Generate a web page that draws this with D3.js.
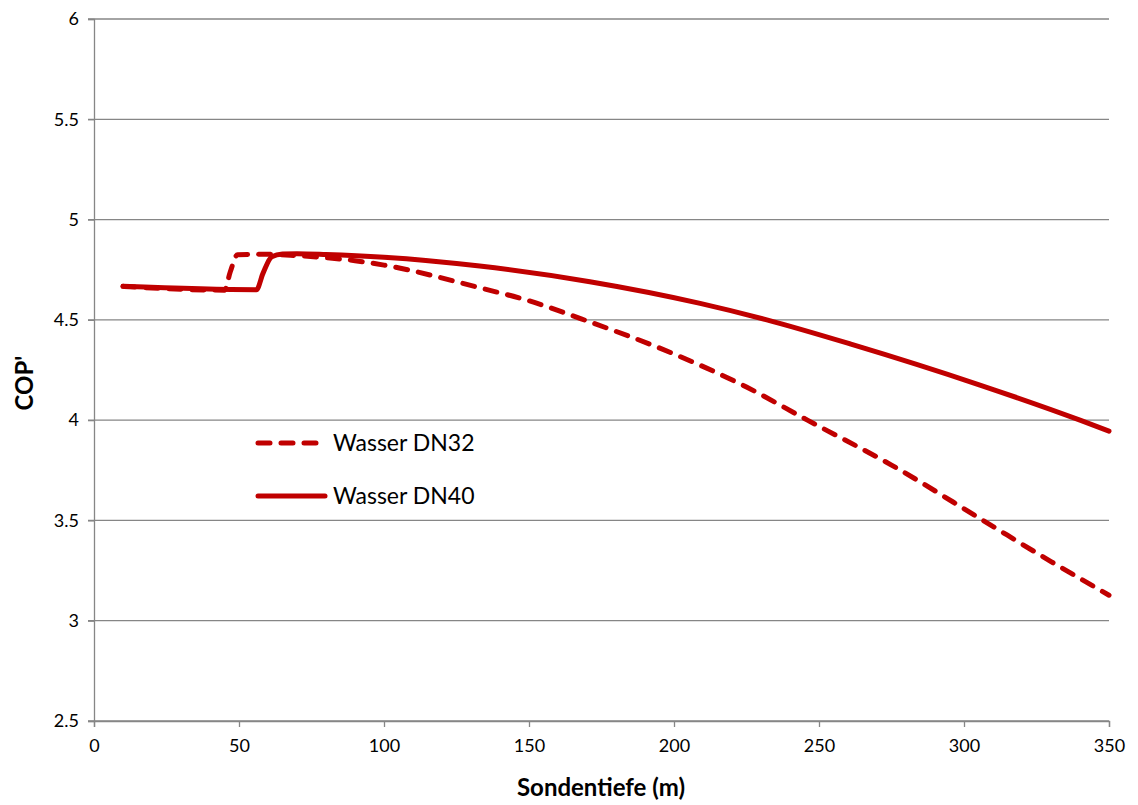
<!DOCTYPE html>
<html><head><meta charset="utf-8">
<script src="https://cdn.jsdelivr.net/npm/d3@7"></script>
<style>body{margin:0;background:#fff}svg{display:block}</style>
</head><body>
<script>
const xTicks = [0, 50, 100, 150, 200, 250, 300, 350];
const yTicks = [2.5, 3, 3.5, 4, 4.5, 5, 5.5, 6];
const seriesNames = ["Wasser DN32", "Wasser DN40"];
const dn32Depth = [10, 45, 47, 49.5, 60, 70, 80, 90, 100, 133, 150, 168, 200, 225, 246, 275, 306.6, 330, 350];
const dn32Cop   = [4.667, 4.648, 4.74, 4.825, 4.827, 4.82, 4.81, 4.795, 4.773, 4.66, 4.595, 4.505, 4.33, 4.165, 4.0, 3.776, 3.5, 3.295, 3.127];
const dn40Depth = [10, 56, 58.3, 61.3, 65, 70, 80, 100, 133, 171, 209, 232, 261, 305.5, 340, 350];
const dn40Cop   = [4.667, 4.650, 4.733, 4.815, 4.828, 4.83, 4.826, 4.812, 4.768, 4.69, 4.582, 4.5, 4.379, 4.175, 4.0, 3.945];

const W = 1138, H = 805;
const m = {left: 94, right: 1109, top: 19, bottom: 721};
const svg = d3.select("body").append("svg").attr("width", W).attr("height", H);
const x = d3.scaleLinear().domain([0, 350]).range([m.left, m.right]);
const y = d3.scaleLinear().domain([2.5, 6]).range([m.bottom, m.top]);
const gray = "#868686";
const font = "Lato, 'Open Sans', sans-serif";

// gridlines
svg.append("g").selectAll("line").data(yTicks).join("line")
  .attr("x1", m.left - 6).attr("x2", m.right)
  .attr("y1", d => y(d)).attr("y2", d => y(d))
  .attr("stroke", gray).attr("stroke-width", 1.3);

// y axis
const yAxis = svg.append("g").attr("transform", `translate(${m.left},0)`)
  .call(d3.axisLeft(y).tickValues(yTicks).tickSize(6).tickPadding(9).tickFormat(d3.format("")));
yAxis.select(".domain").attr("stroke", gray).attr("stroke-width", 1.3);
yAxis.selectAll(".tick line").attr("stroke", gray).attr("stroke-width", 1.3);
yAxis.selectAll("text").attr("font-family", font).attr("font-size", 18).attr("fill", "#000");

// x axis
const xAxis = svg.append("g").attr("transform", `translate(0,${m.bottom})`)
  .call(d3.axisBottom(x).tickValues(xTicks).tickSize(6).tickPadding(12).tickFormat(d3.format("")));
xAxis.select(".domain").attr("stroke", gray).attr("stroke-width", 1.3);
xAxis.selectAll(".tick line").attr("stroke", gray).attr("stroke-width", 1.3);
xAxis.selectAll("text").attr("font-family", font).attr("font-size", 18).attr("fill", "#000");

const red = "#c00000";
const line = d3.line().x(d => x(d[0])).y(d => y(d[1])).curve(d3.curveMonotoneX);
const d32 = dn32Depth.map((d, i) => [d, dn32Cop[i]]);
const d40 = dn40Depth.map((d, i) => [d, dn40Cop[i]]);

svg.append("path").datum(d32).attr("d", line).attr("fill", "none")
  .attr("stroke", red).attr("stroke-width", 5).attr("stroke-linecap", "round")
  .attr("stroke-dasharray", "12,11");
svg.append("path").datum(d40).attr("d", line).attr("fill", "none")
  .attr("stroke", red).attr("stroke-width", 5).attr("stroke-linecap", "round")
  .attr("stroke-linejoin", "round");

// legend
const leg = svg.append("g");
leg.append("line").attr("x1", 258).attr("x2", 316).attr("y1", 443).attr("y2", 443)
  .attr("stroke", red).attr("stroke-width", 5).attr("stroke-linecap", "round").attr("stroke-dasharray", "12,11");
leg.append("line").attr("x1", 258).attr("x2", 325).attr("y1", 496).attr("y2", 496)
  .attr("stroke", red).attr("stroke-width", 5).attr("stroke-linecap", "round");
leg.selectAll("text").data(seriesNames).join("text")
  .attr("x", 333).attr("y", (d, i) => 451 + i * 53)
  .attr("font-family", font).attr("font-size", 23).attr("fill", "#000").text(d => d);

// axis titles
svg.append("text").attr("x", 601).attr("y", 796).attr("text-anchor", "middle")
  .attr("font-family", font).attr("font-weight", "bold").attr("font-size", 24).text("Sondentiefe (m)");
svg.append("text").attr("transform", "translate(33,383) rotate(-90)").attr("text-anchor", "middle")
  .attr("font-family", font).attr("font-weight", "bold").attr("font-size", 24).text("COP'");
</script>
</body></html>
